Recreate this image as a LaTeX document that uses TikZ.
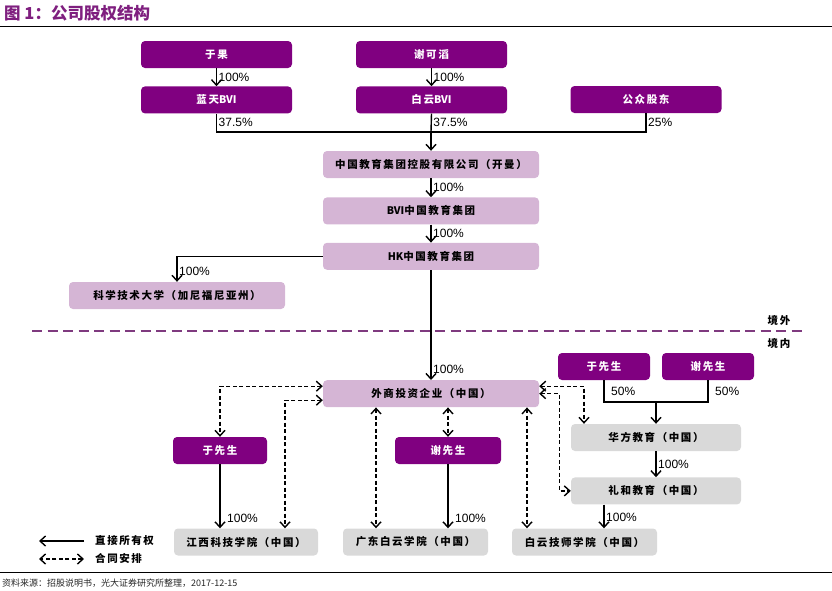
\documentclass[tikz,border=0pt]{standalone}
\usepackage{fontspec}
\setmainfont{Liberation Sans}
\newfontfamily\cjk[LetterSpace=15]{Noto Sans CJK SC}
\newfontfamily\cjkplain{Noto Sans CJK SC}
\newcommand\tightlatin[1]{{\addfontfeature{LetterSpace=0}#1}}
\usepackage{xcolor}
\definecolor{ownerfill}{HTML}{800080}
\definecolor{holdingfill}{HTML}{D5B5D5}
\definecolor{schoolfill}{HTML}{D9D9D9}
\definecolor{titlecolor}{HTML}{7F1F7F}
\definecolor{bordercolor}{HTML}{7F3A7F}
\usetikzlibrary{positioning,arrows.meta}
\tikzset{
    owner/.style={
        rectangle,
        fill=ownerfill,
        text=white,
        minimum height=27pt,
        minimum width=151pt,
        align=center,
        rounded corners=4pt,
        inner sep=0pt,
        font=\cjk\bfseries\fontsize{10.5}{12}\selectfont,
    },
    holding/.style={
        owner,
        fill=holdingfill,
        text=black,
        minimum width=216pt,
    },
    school/.style={
        owner,
        fill=schoolfill,
        text=black,
        minimum width=145pt,
    },
    direct/.style={
        -{Straight Barb[length=5.5pt,width=10pt]},
        line width=1.4pt,
        black,
    },
    joinline/.style={
        line width=1.4pt,
        black,
    },
    contract/.style={
        {Straight Barb[length=5.5pt,width=10pt]}-{Straight Barb[length=5.5pt,width=10pt]},
        line width=1.4pt,
        dash pattern=on 4pt off 2.5pt,
        black,
    },
    pct/.style={
        font=\fontsize{12}{13}\selectfont,
        inner sep=1.5pt,
    },
    region/.style={
        font=\cjk\bfseries\fontsize{10.5}{12}\selectfont,
        inner sep=0pt,
    },
    legendtext/.style={
        anchor=west,
        font=\cjk\bfseries\fontsize{10.5}{12}\selectfont,
        inner sep=0pt,
    },
}

\begin{document}
\begin{tikzpicture}[x=1pt, y=-1pt, node distance=18pt]
    \useasboundingbox (0,0) rectangle (832,590);

    % Title and rules
    \node[anchor=west, inner sep=0pt, text=titlecolor,
          font=\cjkplain\bfseries\fontsize{16.5}{18}\selectfont] (title) at (4,13) {图 1：公司股权结构};
    \draw[line width=1pt] (0,26) -- (832,26);
    \draw[line width=1pt] (0,572) -- (832,572);
    \node[anchor=west, inner sep=0pt, text=black!85,
          font=\cjkplain\fontsize{9}{11}\selectfont] (source) at (2,583) {资料来源：招股说明书，光大证券研究所整理，2017-12-15};

    % Founders and BVI holding companies
    \node[owner] (yuguo) at (216.5,54.5) {于果};
    \node[owner, below=of yuguo] (lantian) {蓝天\tightlatin{BVI}};
    \node[owner] (xiekt) at (431.5,54.5) {谢可滔};
    \node[owner, below=of xiekt] (baiyun) {白云\tightlatin{BVI}};
    \node[owner] (public) at (646,99.5) {公众股东};

    % Offshore group
    \node[holding] (cayman) at (431,164.5) {中国教育集团控股有限公司（开曼）};
    \node[holding, below=19pt of cayman] (bvigroup) {\tightlatin{BVI}中国教育集团};
    \node[holding, below=of bvigroup] (hkgroup) {\tightlatin{HK}中国教育集团};
    \node[holding] (usauni) at (177,295.5) {科学技术大学（加尼福尼亚州）};

    % Onshore entities
    \node[holding, below=110pt of hkgroup] (wfoe) {外商投资企业（中国）};
    \node[owner, minimum width=92pt] (yuright) at (604,366.5) {于先生};
    \node[owner, minimum width=92pt] (xieright) at (708,366.5) {谢先生};
    \node[school, minimum width=170pt] (huafang) at (656,437.5) {华方教育（中国）};
    \node[school, minimum width=170pt, below=26pt of huafang] (lihe) {礼和教育（中国）};
    \node[owner, minimum width=94pt] (yuleft) at (220,450.5) {于先生};
    \node[owner, minimum width=106pt] (xieleft) at (448,450.5) {谢先生};

    % Schools
    \node[school, minimum width=144pt] (jiangxi) at (246,542) {江西科技学院（中国）};
    \node[school] (guangdong) at (415.5,542) {广东白云学院（中国）};
    \node[school] (jishi) at (584.5,542) {白云技师学院（中国）};

    % Offshore / onshore border
    \draw[bordercolor, line width=2.5pt, dash pattern=on 10pt off 5.5pt] (32,331) -- (802,331);
    \node[region] (offshore) at (779,320) {境外};
    \node[region] (onshore) at (779,343) {境内};

    % Ownership above the listed company
    \coordinate (join) at (431,132);
    \draw[direct] (yuguo) -- node[pct, right] {100\%} (lantian);
    \draw[direct] (xiekt) -- node[pct, right] {100\%} (baiyun);
    \draw[joinline] (lantian.south) -- node[pct, right] {37.5\%} (lantian.south |- join)
        -- (public.south |- join) -- node[pct, right] {25\%} (public.south);
    \draw[joinline] (baiyun.south) -- node[pct, right] {37.5\%} (join);
    \draw[direct] (join) -- (cayman);

    % Offshore chain
    \draw[direct] (cayman) -- node[pct, right] {100\%} (bvigroup);
    \draw[direct] (bvigroup) -- node[pct, right] {100\%} (hkgroup);
    \draw[direct] (hkgroup.west) -| node[pct, right, pos=0.8] {100\%} (usauni.north);
    \draw[direct] (hkgroup) -- node[pct, right, pos=0.9] {100\%} (wfoe);

    % Huafang and Lihe
    \coordinate (split) at (656,402);
    \draw[joinline] (yuright.south) |- node[pct, right, pos=0.25, xshift=5pt] {50\%} (split)
        -| node[pct, right, pos=0.75, xshift=5pt] {50\%} (xieright.south);
    \draw[direct] (split) -- (huafang);
    \draw[direct] (huafang) -- node[pct, right] {100\%} (lihe);
    \draw[direct] ([xshift=-52pt]lihe.south) -- node[pct, right, pos=0.55] {100\%} ([xshift=-52pt]lihe.south |- jishi.north);

    % Direct ownership of schools
    \draw[direct] (yuleft.south) -- node[pct, right, pos=0.85, xshift=5pt] {100\%} (yuleft.south |- jiangxi.north);
    \draw[direct] (xieleft.south) -- node[pct, right, pos=0.85, xshift=5pt] {100\%} (xieleft.south |- guangdong.north);

    % Contractual arrangements
    \draw[contract] ([yshift=7.5pt]wfoe.west) -| (yuleft.north);
    \draw[contract] ([yshift=-6.5pt]wfoe.west) -| ([xshift=39pt]jiangxi.north);
    \draw[contract] ([xshift=-55pt]wfoe.south) -- ([xshift=-55pt]wfoe.south |- guangdong.north);
    \draw[contract] (wfoe.south -| xieleft) -- (xieleft.north);
    \draw[contract] ([xshift=96pt]wfoe.south) -- ([xshift=96pt]wfoe.south |- jishi.north);
    \draw[contract] ([yshift=7.5pt]wfoe.east) -| ([xshift=-72pt]huafang.north);
    \draw[contract] (wfoe.east) -- ++(20,0) |- (lihe.west);

    % Legend
    \node[legendtext] (legdirect) at (95,541) {直接所有权};
    \node[legendtext] (legcontract) at (95,559) {合同安排};
    \draw[direct] ([xshift=-11pt]legdirect.west) -- ++(-45,0);
    \draw[contract] ([xshift=-11pt]legcontract.west) -- ++(-45,0);
\end{tikzpicture}
\end{document}
